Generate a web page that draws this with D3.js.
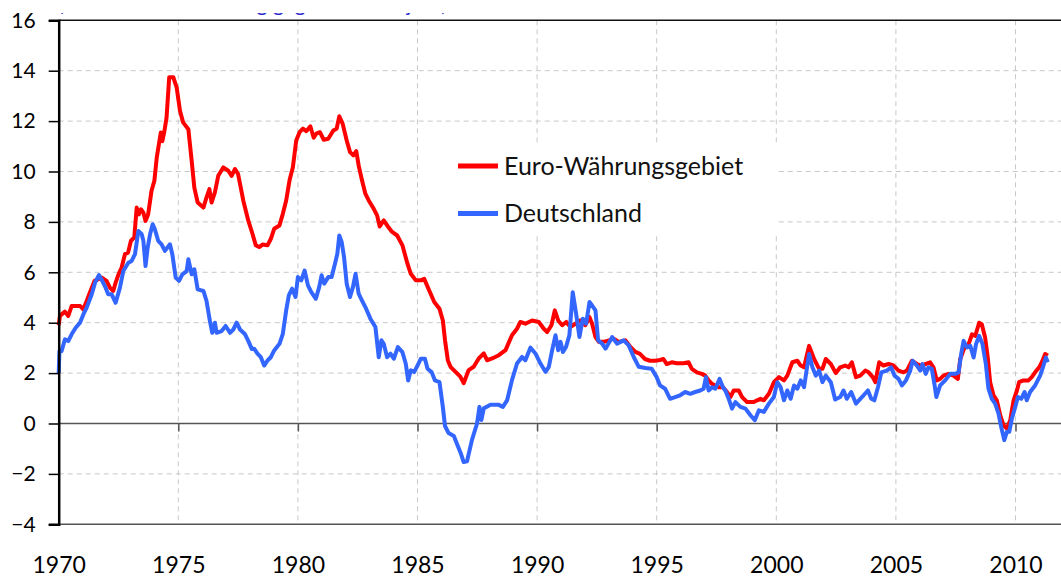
<!DOCTYPE html>
<html>
<head>
<meta charset="utf-8">
<script src="https://cdn.jsdelivr.net/npm/d3@7"></script>
<style>
  body { margin: 0; background: #fff; }
  svg { display: block; font-family: "Lato", "Noto Sans", sans-serif; }
</style>
</head>
<body>
<div id="chart"></div>
<script>
// Inflation, Euro-Währungsgebiet vs. Deutschland
const yearTicks = [1970, 1975, 1980, 1985, 1990, 1995, 2000, 2005, 2010];
const rateTicks = [-4, -2, 0, 2, 4, 6, 8, 10, 12, 14, 16];
const seriesNames = ["Euro-Währungsgebiet", "Deutschland"];
const titleText = "(Jährliche Veränderung gegenüber Vorjahr)";

const euroArea = [
  [1970.0, 3.9], [1970.05, 4.27], [1970.26, 4.44], [1970.4, 4.27], [1970.54, 4.66], [1970.9, 4.66],
  [1971.03, 4.53], [1971.17, 4.86], [1971.3, 5.19], [1971.5, 5.66], [1971.8, 5.79], [1972.0, 5.66],
  [1972.14, 5.39], [1972.28, 5.26], [1972.38, 5.59], [1972.5, 5.92], [1972.63, 6.19], [1972.77, 6.72],
  [1972.9, 6.78], [1973.02, 7.25], [1973.16, 7.38], [1973.26, 8.57], [1973.35, 8.3], [1973.44, 8.5],
  [1973.54, 8.37], [1973.63, 8.04], [1973.74, 8.3], [1973.88, 9.23], [1974.0, 9.63], [1974.1, 10.56],
  [1974.19, 11.09], [1974.27, 11.55], [1974.33, 11.2], [1974.41, 11.55], [1974.51, 12.15], [1974.62, 13.74],
  [1974.79, 13.74], [1974.93, 13.34], [1975.07, 12.41], [1975.2, 11.95], [1975.42, 11.68], [1975.56, 10.42],
  [1975.67, 9.36], [1975.81, 8.77], [1976.05, 8.57], [1976.18, 8.97], [1976.3, 9.3], [1976.39, 8.77],
  [1976.53, 9.17], [1976.67, 9.83], [1976.88, 10.16], [1977.09, 10.03], [1977.23, 9.83], [1977.37, 10.1],
  [1977.5, 9.9], [1977.72, 8.83], [1977.93, 8.04], [1978.1, 7.53], [1978.24, 7.07], [1978.38, 7.0],
  [1978.52, 7.1], [1978.73, 7.07], [1978.87, 7.33], [1979.01, 7.73], [1979.23, 7.86], [1979.37, 8.32],
  [1979.51, 8.85], [1979.65, 9.65], [1979.79, 10.17], [1979.93, 11.23], [1980.07, 11.56], [1980.21, 11.7],
  [1980.35, 11.6], [1980.52, 11.79], [1980.66, 11.34], [1980.77, 11.5], [1980.92, 11.56], [1981.08, 11.26],
  [1981.27, 11.3], [1981.48, 11.63], [1981.62, 11.7], [1981.73, 12.19], [1981.87, 11.9], [1982.04, 11.23],
  [1982.18, 10.77], [1982.32, 10.64], [1982.44, 10.81], [1982.54, 10.24], [1982.68, 9.65], [1982.82, 9.12],
  [1982.96, 8.85], [1983.17, 8.52], [1983.31, 8.26], [1983.42, 7.82], [1983.59, 8.06], [1983.76, 7.82],
  [1983.94, 7.6], [1984.15, 7.46], [1984.37, 7.07], [1984.58, 6.34], [1984.72, 5.94], [1984.93, 5.68],
  [1985.14, 5.68], [1985.28, 5.74], [1985.49, 5.28], [1985.7, 4.82], [1985.92, 4.55], [1986.06, 4.09],
  [1986.15, 3.3], [1986.27, 2.5], [1986.38, 2.25], [1986.59, 2.05], [1986.79, 1.86], [1986.93, 1.6],
  [1987.14, 2.12], [1987.35, 2.25], [1987.56, 2.58], [1987.77, 2.78], [1987.91, 2.51], [1988.12, 2.58],
  [1988.4, 2.71], [1988.68, 2.91], [1988.95, 3.5], [1989.16, 3.76], [1989.3, 4.03], [1989.51, 3.96],
  [1989.79, 4.09], [1990.07, 4.03], [1990.28, 3.76], [1990.42, 3.63], [1990.6, 3.9], [1990.74, 4.49],
  [1990.88, 4.09], [1991.05, 3.9], [1991.22, 4.03], [1991.39, 3.83], [1991.6, 3.96], [1991.81, 4.09],
  [1992.02, 3.9], [1992.19, 4.22], [1992.3, 3.96], [1992.44, 3.43], [1992.58, 3.24], [1992.79, 3.24],
  [1993.0, 3.3], [1993.2, 3.37], [1993.41, 3.24], [1993.69, 3.3], [1993.9, 3.04], [1994.11, 2.84],
  [1994.3, 2.76], [1994.51, 2.56], [1994.72, 2.49], [1994.93, 2.49], [1995.14, 2.52], [1995.28, 2.56],
  [1995.42, 2.36], [1995.63, 2.43], [1995.84, 2.39], [1996.12, 2.39], [1996.33, 2.43], [1996.47, 2.17],
  [1996.68, 2.03], [1996.89, 1.97], [1997.03, 1.9], [1997.17, 1.71], [1997.31, 1.57], [1997.45, 1.51],
  [1997.59, 1.44], [1997.77, 1.44], [1997.94, 1.25], [1998.08, 1.05], [1998.22, 1.31], [1998.43, 1.31],
  [1998.57, 1.05], [1998.78, 0.85], [1999.06, 0.85], [1999.2, 0.92], [1999.34, 0.98], [1999.48, 0.92],
  [1999.69, 1.18], [1999.9, 1.64], [2000.11, 1.84], [2000.32, 1.71], [2000.46, 1.9], [2000.67, 2.43],
  [2000.88, 2.49], [2001.02, 2.3], [2001.16, 2.23], [2001.37, 3.08], [2001.58, 2.56], [2001.79, 2.17],
  [2001.93, 2.17], [2002.07, 2.56], [2002.28, 2.36], [2002.49, 2.0], [2002.67, 2.23], [2002.88, 2.3],
  [2003.02, 2.23], [2003.16, 2.43], [2003.33, 1.84], [2003.51, 1.9], [2003.72, 2.1], [2003.86, 2.03],
  [2004.03, 1.84], [2004.14, 1.64], [2004.3, 2.43], [2004.48, 2.3], [2004.69, 2.36], [2004.9, 2.3],
  [2005.11, 2.1], [2005.32, 2.03], [2005.46, 2.1], [2005.67, 2.49], [2005.88, 2.36], [2006.06, 2.3],
  [2006.23, 2.36], [2006.43, 2.43], [2006.57, 2.23], [2006.71, 1.71], [2006.85, 1.77], [2006.99, 1.9],
  [2007.2, 1.97], [2007.41, 1.9], [2007.59, 1.77], [2007.69, 2.56], [2007.87, 3.02], [2008.04, 3.15],
  [2008.18, 3.54], [2008.32, 3.48], [2008.48, 4.0], [2008.59, 3.94], [2008.73, 3.41], [2008.84, 2.62],
  [2008.94, 1.64], [2009.08, 1.12], [2009.22, 0.92], [2009.36, 0.33], [2009.5, -0.07], [2009.64, -0.2],
  [2009.78, 0.13], [2009.92, 0.92], [2010.06, 1.31], [2010.15, 1.64], [2010.33, 1.71], [2010.54, 1.71],
  [2010.68, 1.84], [2010.82, 2.03], [2010.99, 2.23], [2011.13, 2.49], [2011.24, 2.76], [2011.35, 2.69]
];

const germany = [
  [1970.0, 2.0], [1970.03, 2.87], [1970.12, 2.87], [1970.26, 3.34], [1970.4, 3.27], [1970.54, 3.54],
  [1970.71, 3.8], [1970.89, 4.0], [1971.03, 4.33], [1971.17, 4.6], [1971.38, 5.13], [1971.52, 5.59],
  [1971.68, 5.89], [1971.82, 5.66], [1971.96, 5.39], [1972.07, 5.13], [1972.21, 5.13], [1972.38, 4.79],
  [1972.56, 5.39], [1972.7, 6.05], [1972.91, 6.38], [1973.05, 6.45], [1973.19, 6.72], [1973.33, 7.64],
  [1973.47, 7.51], [1973.54, 7.25], [1973.63, 6.25], [1973.72, 6.98], [1973.82, 7.51], [1973.93, 7.91],
  [1974.02, 7.71], [1974.16, 7.25], [1974.3, 7.11], [1974.44, 6.85], [1974.65, 7.11], [1974.75, 6.72],
  [1974.89, 5.79], [1975.03, 5.66], [1975.17, 5.92], [1975.35, 6.05], [1975.42, 6.52], [1975.56, 5.92],
  [1975.67, 6.12], [1975.81, 5.32], [1976.05, 5.26], [1976.18, 4.86], [1976.32, 4.07], [1976.42, 3.6],
  [1976.53, 4.0], [1976.6, 3.6], [1976.81, 3.67], [1976.98, 3.87], [1977.16, 3.6], [1977.3, 3.73],
  [1977.44, 4.0], [1977.58, 3.73], [1977.79, 3.54], [1977.93, 3.27], [1978.07, 2.96], [1978.17, 2.97],
  [1978.31, 2.77], [1978.45, 2.63], [1978.59, 2.3], [1978.73, 2.5], [1978.87, 2.63], [1979.01, 2.9],
  [1979.23, 3.16], [1979.37, 3.56], [1979.51, 4.49], [1979.62, 5.08], [1979.76, 5.35], [1979.9, 5.02],
  [1980.0, 5.81], [1980.14, 5.68], [1980.28, 6.07], [1980.42, 5.48], [1980.56, 5.21], [1980.75, 4.95],
  [1980.89, 5.41], [1980.99, 5.88], [1981.1, 5.55], [1981.27, 5.81], [1981.41, 5.81], [1981.55, 6.34],
  [1981.65, 6.74], [1981.73, 7.46], [1981.83, 7.2], [1981.93, 6.6], [1982.04, 5.55], [1982.18, 5.02],
  [1982.3, 5.41], [1982.41, 5.94], [1982.54, 5.15], [1982.68, 4.88], [1982.82, 4.62], [1983.03, 4.16],
  [1983.24, 3.83], [1983.38, 2.63], [1983.49, 3.3], [1983.59, 3.16], [1983.73, 2.63], [1983.87, 2.77],
  [1984.01, 2.57], [1984.18, 3.03], [1984.37, 2.83], [1984.51, 2.37], [1984.61, 1.71], [1984.72, 2.11],
  [1984.86, 2.04], [1985.0, 2.3], [1985.14, 2.57], [1985.31, 2.57], [1985.42, 2.17], [1985.59, 2.04],
  [1985.73, 1.71], [1985.92, 1.64], [1986.06, 0.65], [1986.15, -0.1], [1986.3, -0.38], [1986.52, -0.5],
  [1986.66, -0.83], [1986.8, -1.16], [1986.93, -1.53], [1987.07, -1.5], [1987.28, -0.64], [1987.49, 0.0],
  [1987.59, 0.66], [1987.67, 0.14], [1987.77, 0.6], [1988.05, 0.74], [1988.4, 0.74], [1988.57, 0.66],
  [1988.75, 0.93], [1988.95, 1.72], [1989.16, 2.38], [1989.37, 2.64], [1989.51, 2.51], [1989.72, 3.01],
  [1989.93, 2.78], [1990.14, 2.38], [1990.35, 2.05], [1990.49, 2.25], [1990.63, 2.91], [1990.77, 3.5],
  [1990.88, 2.91], [1990.98, 3.24], [1991.08, 2.84], [1991.21, 3.04], [1991.35, 3.5], [1991.49, 5.21],
  [1991.63, 4.36], [1991.77, 3.43], [1991.91, 4.16], [1992.05, 3.96], [1992.19, 4.82], [1992.3, 4.68],
  [1992.44, 4.49], [1992.55, 3.3], [1992.72, 3.17], [1992.86, 2.97], [1993.14, 3.43], [1993.34, 3.17],
  [1993.62, 3.3], [1993.83, 3.1], [1994.04, 2.64], [1994.25, 2.25], [1994.53, 2.2], [1994.79, 2.17],
  [1995.0, 1.84], [1995.14, 1.51], [1995.35, 1.38], [1995.56, 0.98], [1995.77, 1.05], [1995.98, 1.12],
  [1996.19, 1.25], [1996.4, 1.18], [1996.61, 1.25], [1996.82, 1.31], [1996.96, 1.38], [1997.06, 1.84],
  [1997.17, 1.31], [1997.31, 1.44], [1997.45, 1.38], [1997.63, 1.77], [1997.77, 1.44], [1997.87, 1.31],
  [1998.01, 0.98], [1998.15, 0.59], [1998.29, 0.85], [1998.5, 0.66], [1998.71, 0.59], [1998.92, 0.33],
  [1999.1, 0.13], [1999.27, 0.52], [1999.48, 0.46], [1999.69, 0.79], [1999.9, 1.05], [2000.04, 1.64],
  [2000.18, 1.44], [2000.32, 0.92], [2000.46, 1.31], [2000.6, 0.98], [2000.74, 1.51], [2000.88, 1.38],
  [2001.02, 1.71], [2001.16, 1.44], [2001.37, 2.76], [2001.51, 2.23], [2001.65, 1.9], [2001.79, 2.1],
  [2001.93, 1.64], [2002.07, 1.9], [2002.28, 1.64], [2002.46, 0.95], [2002.67, 1.05], [2002.81, 1.31],
  [2002.95, 0.98], [2003.13, 1.25], [2003.33, 0.79], [2003.51, 0.98], [2003.65, 1.12], [2003.83, 1.31],
  [2003.97, 0.98], [2004.1, 0.92], [2004.25, 1.44], [2004.39, 2.03], [2004.62, 2.1], [2004.8, 2.23],
  [2004.94, 1.9], [2005.11, 1.77], [2005.25, 1.51], [2005.42, 1.71], [2005.6, 2.1], [2005.7, 2.49],
  [2005.88, 2.3], [2006.02, 2.1], [2006.11, 2.36], [2006.25, 1.97], [2006.36, 2.23], [2006.5, 2.17],
  [2006.62, 1.51], [2006.69, 1.05], [2006.85, 1.51], [2007.06, 1.71], [2007.27, 1.97], [2007.48, 1.97],
  [2007.62, 2.03], [2007.73, 2.76], [2007.83, 3.28], [2007.97, 3.02], [2008.11, 3.08], [2008.25, 2.62],
  [2008.35, 3.15], [2008.48, 3.48], [2008.62, 3.15], [2008.76, 2.36], [2008.87, 1.38], [2009.01, 0.98],
  [2009.15, 0.79], [2009.29, 0.39], [2009.4, -0.13], [2009.53, -0.66], [2009.64, -0.33], [2009.74, -0.33],
  [2009.85, 0.2], [2009.99, 0.66], [2010.1, 1.05], [2010.24, 0.98], [2010.38, 1.25], [2010.47, 0.92],
  [2010.61, 1.25], [2010.82, 1.51], [2011.03, 1.9], [2011.17, 2.3], [2011.27, 2.62], [2011.35, 2.43]
];

const colors = ["#ff0000", "#3366ff"];

const width = 1061;
const height = 579;
const plotLeft = 58.7, plotRight = 1061, plotTop = 20.3, plotBottom = 524.3;

const svg = d3.select("#chart").append("svg")
    .attr("width", width)
    .attr("height", height);

const x = d3.scaleLinear()
    .domain([1970, 1970 + (plotRight - plotLeft) / 23.92])
    .range([plotLeft, plotRight]);

const y = d3.scaleLinear()
    .domain([-4, 16])
    .range([plotBottom, plotTop]);

// title, only the descenders peek out above the plot (as in the source image)
svg.append("clipPath").attr("id", "titleClip")
    .append("rect").attr("x", 0).attr("y", 13).attr("width", width).attr("height", 7);
svg.append("text")
    .attr("clip-path", "url(#titleClip)")
    .attr("x", 58)
    .attr("y", 11)
    .attr("fill", "#2a2acc")
    .style("font-size", "21px")
    .text(titleText);

// grid
const grid = svg.append("g")
    .attr("stroke", "#c8c8c8")
    .attr("stroke-width", 1)
    .attr("stroke-dasharray", "5,4");

grid.selectAll("line.h")
    .data(rateTicks.filter(d => d !== 0 && d !== -4 && d !== 16))
    .join("line")
    .attr("class", "h")
    .attr("x1", plotLeft).attr("x2", plotRight)
    .attr("y1", d => y(d)).attr("y2", d => y(d));

grid.selectAll("line.v")
    .data(yearTicks.filter(d => d !== 1970))
    .join("line")
    .attr("class", "v")
    .attr("x1", d => x(d)).attr("x2", d => x(d))
    .attr("y1", plotTop).attr("y2", plotBottom);

// frame lines
svg.append("line")
    .attr("x1", plotLeft).attr("x2", plotRight)
    .attr("y1", plotTop).attr("y2", plotTop)
    .attr("stroke", "#111").attr("stroke-width", 1.5);

svg.append("line")
    .attr("x1", plotLeft).attr("x2", plotRight)
    .attr("y1", plotBottom).attr("y2", plotBottom)
    .attr("stroke", "#555").attr("stroke-width", 1.5);

// zero line with small year ticks
const zeroAxis = svg.append("g")
    .attr("transform", `translate(0,${y(0)})`)
    .call(d3.axisBottom(x).tickValues(yearTicks.filter(d => d !== 1970)).tickSize(8).tickFormat(""));
zeroAxis.select(".domain").remove();
zeroAxis.selectAll("line").attr("stroke", "#555").attr("stroke-width", 1.5);
svg.append("line")
    .attr("x1", plotLeft).attr("x2", plotRight)
    .attr("y1", y(0)).attr("y2", y(0))
    .attr("stroke", "#555").attr("stroke-width", 1.5);

// legend box (covers the grid)
const legend = svg.append("g");
legend.append("rect")
    .attr("x", 418).attr("y", 143)
    .attr("width", 360).attr("height", 90)
    .attr("fill", "#fff");

seriesNames.forEach((name, i) => {
    const ly = 166 + i * 47.5;
    legend.append("line")
        .attr("x1", 458).attr("x2", 498)
        .attr("y1", ly).attr("y2", ly)
        .attr("stroke", colors[i])
        .attr("stroke-width", 5);
    legend.append("text")
        .attr("x", 504)
        .attr("y", ly)
        .attr("dy", "0.35em")
        .attr("fill", "#111")
        .style("font-size", "25px")
        .text(name);
});

// lines
const line = d3.line()
    .x(d => x(d[0]))
    .y(d => y(d[1]));

[euroArea, germany].forEach((series, i) => {
    svg.append("path")
        .datum(series)
        .attr("fill", "none")
        .attr("stroke", colors[i])
        .attr("stroke-width", 4)
        .attr("stroke-linejoin", "round")
        .attr("d", line);
});

// y axis
const yAxis = svg.append("g")
    .attr("transform", `translate(${plotLeft},0)`)
    .call(d3.axisLeft(y).tickValues(rateTicks).tickSize(10).tickPadding(13).tickFormat(d3.format("d")));
yAxis.select(".domain").attr("stroke", "#000").attr("stroke-width", 2.5);
yAxis.selectAll(".tick line").attr("stroke", "#000").attr("stroke-width", 1.5);
yAxis.selectAll("text")
    .attr("fill", "#000")
    .style("font-size", "21px")
    .style("font-family", "Lato, sans-serif");

// x labels
const xAxis = svg.append("g")
    .attr("transform", `translate(0,${plotBottom})`)
    .call(d3.axisBottom(x).tickValues(yearTicks).tickSize(0).tickPadding(49).tickFormat(d3.format("d")));
xAxis.select(".domain").remove();
xAxis.selectAll("text")
    .attr("fill", "#000")
    .attr("dy", "0em")
    .style("font-size", "23px")
    .style("font-family", "Lato, sans-serif");
</script>
</body>
</html>
